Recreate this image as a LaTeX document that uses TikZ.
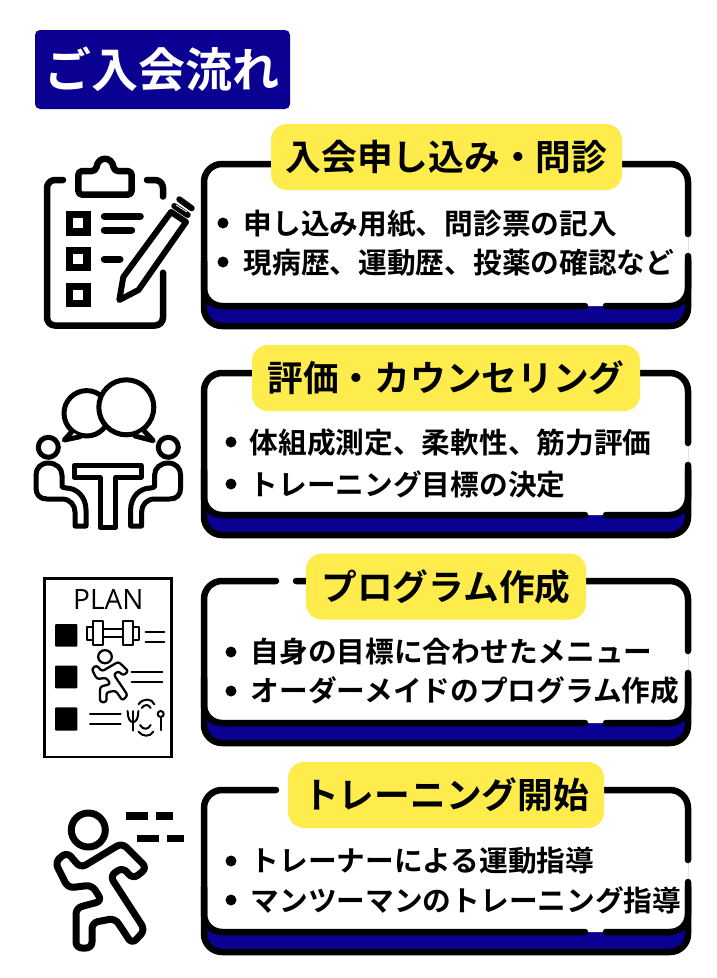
\documentclass[tikz,border=0pt]{standalone}
\usepackage{fontspec}
\newfontfamily\jpb{Noto Sans CJK JP Bold}
\newfontfamily\plainfont{Open Sans}
\setmainfont{DejaVu Sans}
\definecolor{navy}{HTML}{0A0091}
\definecolor{pill}{HTML}{FDEC4C}
\tikzset{
 ink/.style={line width=#1,draw=black,line cap=round,line join=round},
 ink/.default=6.5pt,
 titlebox/.style={fill=pill,rounded corners=16pt,inner sep=0pt,font=\jpb\fontsize{35.7}{35.7}\selectfont,text=black,minimum height=66pt},
 body/.style={font=\jpb\fontsize{28.7}{28.7}\selectfont,text=black,inner sep=0pt,anchor=west},
 dotm/.style={circle,fill=black,minimum size=11pt,inner sep=0pt},
 chk/.style={draw=black,line width=7.3pt,line join=miter},
 sq/.style={fill=black,rounded corners=1pt},
 thin/.style={ink=2pt},
}
\newcommand{\card}[1]{%
 \begin{scope}[yshift=-#1pt]
 \fill[navy,rounded corners=18pt] (204,3) rectangle (688,165);
 \fill[white,rounded corners=18pt] (204,3) rectangle (688,145);
 \draw[ink,rounded corners=18pt] (276,3) -- (204,3) -- (204,165) -- (688,165) -- (688,95);
 \draw[ink,rounded corners=18pt] (688,73) -- (688,3) -- (296,3);
 \draw[ink,rounded corners=18pt] (204,100) -- (204,145) -- (585,145);
 \draw[ink,rounded corners=18pt] (606,145) -- (688,145) -- (688,100);
 \end{scope}}
\newcommand{\runnerbody}{%
 (80.7,868) -- (122,843) -- (147,868) -- (133,879) -- (122.7,867.3) -- (110,876) -- (145,930) -- (132,944) -- (115,918.3) -- (92,922.7) -- (92,948) -- (76,948) -- (76,908) -- (102,901) -- (92,885) -- (68,888) -- (55,862) -- (67,852) -- cycle}
\newcommand{\sitter}{%
 \draw[ink=5pt] (48.3,447.3) circle[radius=10pt];
 \draw[ink=5pt] (48.3,463) .. controls (41,463) and (36,468) .. (36,475) -- (36,488) .. controls (36,495) and (40,499) .. (47,499) -- (62,499) .. controls (70,499) and (75,505) .. (75,512) -- (75,526) -- (86,526) -- (86,510) .. controls (86,497) and (77,488) .. (66,488) -- (62,487) -- (62,475) .. controls (62,468) and (56,463) .. (48.3,463) -- cycle;}
\newcommand{\dropped}[1]{\raisebox{-1.3pt}{#1}}
\begin{document}
\begin{tikzpicture}[x=1pt,y=-1pt]
\useasboundingbox (0,0) rectangle (716,978);
\fill[white] (0,0) rectangle (716,978);
\node[fill=navy,rounded corners=5pt,minimum width=255pt,minimum height=79pt,inner sep=0pt,text=white,font=\jpb\fontsize{47}{47}\selectfont] (head) at (162.5,69.5) {ご入会流れ};

% cards
\card{161}\card{370}\card{578}\card{787}

\node[titlebox,minimum width=351pt] (t1) at (446.5,157) {\dropped{入会申し込み・問診}};
\node[titlebox,minimum width=388pt] (t2) at (446,378) {\dropped{評価・カウンセリング}};
\node[titlebox,minimum width=280pt] (t3) at (446,586.5) {\dropped{プログラム作成}};
\node[titlebox,minimum width=316pt] (t4) at (446,795) {\dropped{トレーニング開始}};

\node[dotm] (b11) at (223,223) {}; \node[body] (l11) at (243.5,224) {申し込み用紙、問診票の記入};
\node[dotm] (b12) at (223,262) {}; \node[body] (l12) at (243.5,263) {現病歴、運動歴、投薬の確認など};
\node[dotm] (b21) at (231,442) {}; \node[body] (l21) at (249.5,443) {体組成測定、柔軟性、筋力評価};
\node[dotm] (b22) at (231,484) {}; \node[body] (l22) at (249.5,484) {トレーニング目標の決定};
\node[dotm] (b31) at (231,652) {}; \node[body] (l31) at (250.5,652) {自身の目標に合わせたメニュー};
\node[dotm] (b32) at (231,691) {}; \node[body] (l32) at (250.5,691) {オーダーメイドのプログラム作成};
\node[dotm] (b41) at (231,861) {}; \node[body] (l41) at (250.5,861) {トレーナーによる運動指導};
\node[dotm] (b42) at (231,900) {}; \node[body] (l42) at (250.5,900) {マンツーマンのトレーニング指導};

% icon 1: clipboard
\draw[ink,rounded corners=8pt] (63,180) -- (47,180) -- (47,325.5) -- (163,325.5) -- (163,272.7);
\draw[ink,rounded corners=8pt] (147,180) -- (163,180) -- (163,196.5);
\draw[ink,rounded corners=4pt] (114,171) .. controls (112,156) and (98,156) .. (96,171) -- (78.3,171) -- (78.3,194.7) -- (131.7,194.7) -- (131.7,171) -- cycle;
\draw[chk] (69.6,214.6) rectangle (87,232);
\draw[chk] (69.6,250.3) rectangle (87,267.7);
\draw[chk] (69.6,286.3) rectangle (87,303.7);
\draw[ink=7pt] (104.3,216.3) -- (140.3,216.3);
\draw[ink=7pt] (104.3,230) -- (131.7,230);
\draw[ink=7pt] (104.3,259) -- (120,259);
\draw[ink=6pt] (119.3,300) -- (123.3,277) -- (171,212) -- (186,222) -- (138.5,290) -- cycle;
\draw[ink=6pt] (174.3,206) -- (187.7,215);
\draw[ink=6pt] (179.3,199.3) -- (191.7,208.3);
\draw[white,line width=.8pt] (176,205) -- (187,212);

% icon 2: two people talking
\draw[ink=5pt,fill=white] (86.7,413.3) circle[radius=22.7pt];
\draw[ink=5pt,fill=white] (71.7,431.7) -- (64.3,440) -- (80,436.7);
\draw[ink=5pt,fill=white] (126.3,407.3) circle[radius=27.5pt];
\draw[ink=5pt,fill=white] (144,430.7) -- (153.3,440.7) -- (135,436);
\sitter
\begin{scope}[xshift=216.6pt,xscale=-1]\sitter\end{scope}
\draw[ink=5pt] (74,465.3) -- (141,465.3) -- (141,477.3) -- (115.7,477.3) -- (115.7,527.3) -- (100,527.3) -- (100,477.3) -- (74,477.3) -- cycle;

% icon 3: plan
\draw[draw=black,line width=2.5pt] (44.5,578.5) rectangle (171.5,757);
\node[font=\plainfont\fontsize{28}{28}\selectfont,inner sep=0pt] (plan) at (108.3,599.5) {PLAN};
\fill[sq] (55,624) rectangle (77.3,646.7);
\fill[sq] (55,665.7) rectangle (77.3,688.3);
\fill[sq] (55,707.3) rectangle (77.3,730.7);
\draw[thin] (93.3,621) rectangle (103.3,645);
\draw[thin] (122.7,621) rectangle (132.7,645);
\draw[thin] (87.3,626.7) rectangle (93.3,640);
\draw[thin] (132.7,626.7) rectangle (139,640);
\draw[thin] (103.3,629.3) rectangle (122.7,637.3);
\draw[thin] (145.7,631.7) -- (164.3,631.7);
\draw[thin] (145.7,641.7) -- (164.3,641.7);
\begin{scope}[shift={(105pt,-656.7pt)},xscale=.40,yscale=.385,shift={(-88.3pt,830pt)}]
 \draw[ink=2.3pt] (88.3,830) circle[radius=17pt];
 \draw[ink=2.3pt,rounded corners=2.5pt] \runnerbody;
\end{scope}
\draw[thin] (131.7,672.3) -- (162.3,672.3);
\draw[thin] (131.7,682) -- (162.3,682);
\draw[thin] (90,714) -- (120.7,714);
\draw[thin] (90,724) -- (120.7,724);
\draw[thin] (127.7,711) .. controls (127.7,719) and (130,722) .. (133,722) .. controls (136,722) and (138.3,719) .. (138.3,711);
\draw[thin] (133,711) -- (133,730.5);
\draw[thin] (160.7,714) circle[radius=3pt];
\draw[thin] (160.7,717) -- (160.7,730);
\draw[thin] (138.5,704.3) .. controls (143,698) and (152,698) .. (154.3,704.3);
\draw[thin] (141.7,708) .. controls (145,704) and (148,704) .. (150.7,708);
\draw[thin] (140,725) .. controls (143,730) and (148,730) .. (150.7,725);
\draw[thin] (138.5,731.7) .. controls (143,737) and (150,737) .. (153.3,731.7);

% icon 4: runner
\draw[ink=7pt] (88.3,830) circle[radius=17pt];
\draw[ink=7pt,rounded corners=6pt] \runnerbody;
\fill (126,812.3) rectangle (147.7,819.7);
\fill (155.7,812.3) rectangle (173,819.7);
\fill (136.7,835) rectangle (159,842.3);
\fill (166.7,835) rectangle (183.7,842.3);
\end{tikzpicture}
\end{document}
